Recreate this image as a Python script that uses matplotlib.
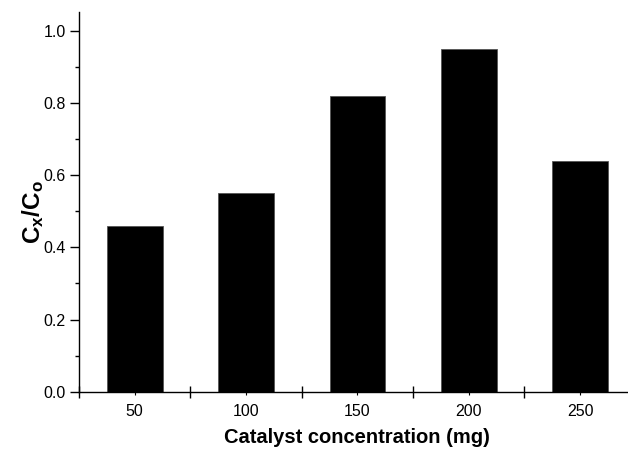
import matplotlib
matplotlib.use("Agg")
import matplotlib.pyplot as plt
from matplotlib.ticker import MultipleLocator, FixedLocator

plt.rcParams['font.family'] = ['Liberation Sans', 'DejaVu Sans']
plt.rcParams['mathtext.fontset'] = 'custom'
plt.rcParams['mathtext.rm'] = 'Liberation Sans'
plt.rcParams['mathtext.bf'] = 'Liberation Sans:bold'
plt.rcParams['mathtext.it'] = 'Liberation Sans:italic'

categories = ["50", "100", "150", "200", "250"]
values = [0.46, 0.55, 0.82, 0.95, 0.64]

fig = plt.figure(figsize=(6.28, 4.5), dpi=100)
ax = fig.add_axes([79/628, 58.3/450, (635.7-79)/628, (391.7-12)/450])

pos = list(range(1, len(categories) + 1))
ax.bar(pos, values, width=0.5, color='black', edgecolor='#555555', linewidth=0.6)

ax.set_xlim(0.5, 5.5)
ax.set_ylim(0, 1.052)

ax.spines['top'].set_visible(False)
ax.spines['right'].set_visible(False)
for s in ('left', 'bottom'):
    ax.spines[s].set_linewidth(1.0)

ax.set_xticks(pos)
ax.set_xticklabels(categories)
ax.xaxis.set_minor_locator(FixedLocator([p - 0.5 for p in pos] + [pos[-1] + 0.5]))
ax.tick_params(axis='x', which='major', direction='out', length=2.5, width=0.8,
               labelsize=11.5, pad=6)
ax.tick_params(axis='x', which='minor', direction='inout', length=8, width=1.0)

ax.yaxis.set_major_locator(MultipleLocator(0.2))
ax.yaxis.set_minor_locator(MultipleLocator(0.1))
ax.set_yticklabels([f"{v:.1f}" for v in ax.get_yticks()])
ax.tick_params(axis='y', which='major', direction='out', length=6.5, width=1.0,
               labelsize=11.5, pad=3)
ax.tick_params(axis='y', which='minor', direction='out', length=3, width=1.0)

ax.set_xlabel("Catalyst concentration (mg)", fontsize=14.5, fontweight='bold', labelpad=7)
ax.set_ylabel(r"$\mathbf{C_x/C_o}$", fontsize=17.5)
ax.yaxis.set_label_coords(-0.059, 0.473)

fig.savefig("out.png", dpi=100)
